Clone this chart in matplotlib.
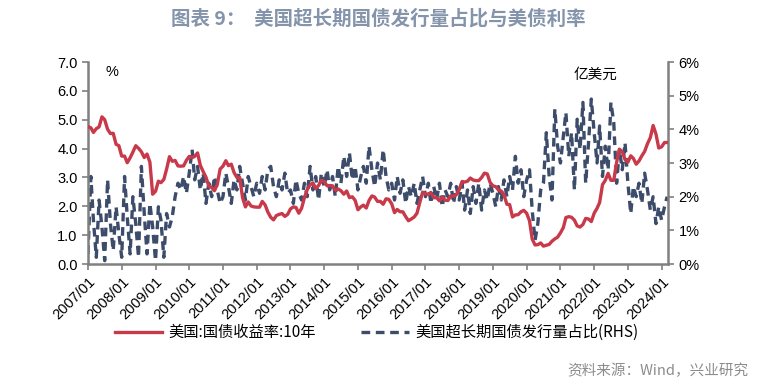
import matplotlib
matplotlib.use('Agg')
import matplotlib.pyplot as plt
import pandas as pd
import numpy as np

plt.rcParams['font.family'] = ['Noto Sans CJK SC', 'DejaVu Sans']

# 美国10年期国债收益率(%), 月度, 2007/01 - 2024/03
yield10 = [
    4.76, 4.72, 4.56, 4.69, 4.75, 5.10, 5.00, 4.67, 4.52, 4.53, 4.15, 4.10,  # 2007
    3.74, 3.74, 3.51, 3.68, 3.88, 4.10, 4.01, 3.89, 3.69, 3.81, 3.53, 2.42,  # 2008
    2.52, 2.87, 2.82, 2.93, 3.29, 3.72, 3.56, 3.59, 3.40, 3.39, 3.40, 3.59,  # 2009
    3.73, 3.69, 3.73, 3.85, 3.42, 3.20, 3.01, 2.70, 2.65, 2.54, 2.76, 3.29,  # 2010
    3.39, 3.58, 3.41, 3.46, 3.17, 3.00, 3.00, 2.30, 1.98, 2.15, 2.01, 1.98,  # 2011
    1.97, 1.97, 2.17, 2.05, 1.80, 1.62, 1.53, 1.68, 1.72, 1.75, 1.65, 1.72,  # 2012
    1.91, 1.98, 1.96, 1.76, 1.93, 2.30, 2.58, 2.74, 2.81, 2.62, 2.72, 2.90,  # 2013
    2.86, 2.71, 2.72, 2.71, 2.56, 2.60, 2.54, 2.42, 2.53, 2.30, 2.33, 2.21,  # 2014
    1.88, 1.98, 2.04, 1.94, 2.20, 2.36, 2.32, 2.17, 2.17, 2.07, 2.26, 2.24,  # 2015
    2.09, 1.78, 1.89, 1.81, 1.81, 1.64, 1.50, 1.56, 1.63, 1.76, 2.14, 2.49,  # 2016
    2.43, 2.42, 2.48, 2.30, 2.30, 2.19, 2.32, 2.21, 2.20, 2.36, 2.35, 2.40,  # 2017
    2.58, 2.86, 2.84, 2.87, 2.98, 2.91, 2.89, 2.89, 3.00, 3.15, 3.12, 2.83,  # 2018
    2.71, 2.68, 2.57, 2.53, 2.40, 2.07, 2.06, 1.63, 1.70, 1.71, 1.81, 1.86,  # 2019
    1.76, 1.50, 0.87, 0.66, 0.67, 0.73, 0.62, 0.65, 0.68, 0.79, 0.87, 0.93,  # 2020
    1.08, 1.26, 1.61, 1.64, 1.62, 1.52, 1.32, 1.28, 1.37, 1.58, 1.56, 1.47,  # 2021
    1.76, 1.93, 2.13, 2.75, 2.90, 3.14, 2.90, 2.90, 3.52, 3.98, 3.89, 3.62,  # 2022
    3.53, 3.75, 3.66, 3.46, 3.57, 3.75, 3.90, 4.17, 4.38, 4.80, 4.50, 4.02,  # 2023
    4.06, 4.21, 4.21,                                                        # 2024
]

# 美国超长期国债发行量占比(%), 右轴
long_share = [
    0.3, 2.6, 1.3, 0.2, 1.9, 1.1, 0.1, 2.5, 1.2, 0.4, 1.7, 0.9,  # 2007
    0.2, 2.6, 1.4, 0.3, 2.0, 1.2, 0.2, 2.9, 1.5, 0.3, 1.8, 1.1,  # 2008
    0.1, 1.7, 1.3, 0.2, 1.5, 1.1, 1.4, 2.0, 2.4, 2.2, 2.6, 2.1,  # 2009
    2.7, 3.4, 2.5, 2.9, 2.2, 2.7, 1.8, 2.4, 2.0, 2.6, 2.2, 1.8,  # 2010
    2.0, 2.7, 2.3, 1.8, 2.5, 2.2, 2.9, 2.4, 1.9, 2.6, 2.3, 2.0,  # 2011
    2.4, 2.1, 2.6, 2.2, 2.8, 2.9, 2.3, 2.0, 2.5, 2.2, 2.7, 2.1,  # 2012
    2.2, 1.8, 2.5, 2.1, 1.9, 2.4, 2.0, 2.9, 2.2, 2.6, 1.9, 2.7,  # 2013
    2.3, 2.8, 2.2, 2.6, 2.0, 2.9, 2.4, 3.2, 2.6, 3.3, 2.5, 2.9,  # 2014
    2.2, 2.6, 2.9, 2.4, 3.5, 2.8, 2.3, 3.0, 2.5, 3.4, 2.6, 2.2,  # 2015
    2.4, 1.9, 2.6, 2.1, 2.5, 1.8, 2.3, 2.0, 2.4, 1.8, 2.2, 2.6,  # 2016
    2.0, 2.4, 1.8, 2.3, 1.9, 2.4, 1.7, 2.2, 2.0, 2.4, 1.8, 2.3,  # 2017
    1.9, 2.4, 1.6, 2.2, 1.5, 2.3, 1.8, 2.4, 1.6, 2.2, 1.9, 2.4,  # 2018
    2.1, 1.7, 2.3, 1.9, 2.5, 2.0, 2.6, 2.2, 3.2, 2.4, 2.8, 2.0,  # 2019
    2.5, 2.8, 1.6, 0.7, 1.2, 2.2, 2.4, 3.9, 2.6, 1.9, 4.6, 3.5,  # 2020
    3.0, 3.8, 4.5, 3.2, 3.9, 2.2, 4.3, 3.4, 4.8, 2.4, 3.6, 4.9,  # 2021
    3.9, 3.0, 4.1, 2.6, 3.5, 2.8, 4.8, 4.2, 2.4, 3.4, 2.8, 3.6,  # 2022
    2.4, 1.5, 2.3, 2.0, 2.4, 1.8, 2.7, 2.2, 1.6, 2.0, 1.2, 1.7,  # 2023
    1.3, 1.7, 2.0,                                               # 2024
]

months = pd.date_range('2007-01-01', periods=len(yield10), freq='MS')
year_ticks = pd.date_range('2007-01-01', '2024-01-01', freq='YS')
tick_labels = [d.strftime('%Y/%m') for d in year_ticks]

red = '#C8394A'
navy = '#3C4C6A'
grey = '#808080'

fig = plt.figure(figsize=(7.8, 3.89), dpi=100)
ax = fig.add_axes([0.1128, 0.3213, 0.7436, 0.5193])
ax2 = ax.twinx()

l1, = ax.plot(months, yield10, color=red, lw=2.4, zorder=3)
l2, = ax2.plot(months, np.array(long_share) / 100, color=navy, lw=2.4,
               dashes=(2.6, 1.7), zorder=2)
ax.set_zorder(ax2.get_zorder() + 1)
ax.patch.set_visible(False)

ax.set_ylim(0, 7)
ax.set_yticks(np.arange(0, 7.01, 1))
ax.set_yticklabels(['%.1f' % v for v in np.arange(0, 7.01, 1)])
ax2.set_ylim(0, 0.06)
ax2.set_yticks(np.arange(0, 0.061, 0.01))
ax2.set_yticklabels(['%d%%' % v for v in range(7)])

ax.set_xlim(pd.Timestamp('2007-01-01'), pd.Timestamp('2024-03-10'))
ax.set_xticks(year_ticks)
ax.set_xticklabels(tick_labels, rotation=45, ha='right', rotation_mode='anchor',
                   fontsize=10.5, family=['Liberation Sans'])

for a in (ax, ax2):
    a.spines['top'].set_visible(False)
    for s in ('left', 'right', 'bottom'):
        a.spines[s].set_color(grey)
        a.spines[s].set_linewidth(1.8)
    a.tick_params(colors='black', length=4, width=1.2, labelsize=10.5)
    a.tick_params(axis='both', color=grey)
for lab in ax.get_yticklabels() + ax2.get_yticklabels():
    lab.set_family(['Liberation Sans'])
ax.spines['right'].set_visible(False)
ax2.spines['left'].set_visible(False)
ax2.spines['bottom'].set_visible(False)

ax.text(0.03, 0.95, '%', transform=ax.transAxes, fontsize=10.5,
        family=['Liberation Sans'], va='center')
ax2.text(0.875, 0.935, '亿美元', transform=ax.transAxes, fontsize=10.5,
         ha='center', va='center')

fig.text(0.485, 0.953, '图表 9：  美国超长期国债发行量占比与美债利率', ha='center', va='center',
         fontsize=14, fontweight='bold', color='#8494AB')

fig.legend([l1, l2], ['美国:国债收益率:10年', '美国超长期国债发行量占比(RHS)'],
           loc='upper left', bbox_to_anchor=(0.147, 0.167), ncol=2, frameon=False,
           fontsize=11, handlelength=3.1, columnspacing=3.0, handletextpad=0.4,
           borderpad=0, borderaxespad=0)

fig.text(0.96, 0.048, '资料来源：Wind，兴业研究', ha='right', va='center',
         fontsize=10.5, color='#8C8C8C')

fig.savefig('out.png', dpi=100)
